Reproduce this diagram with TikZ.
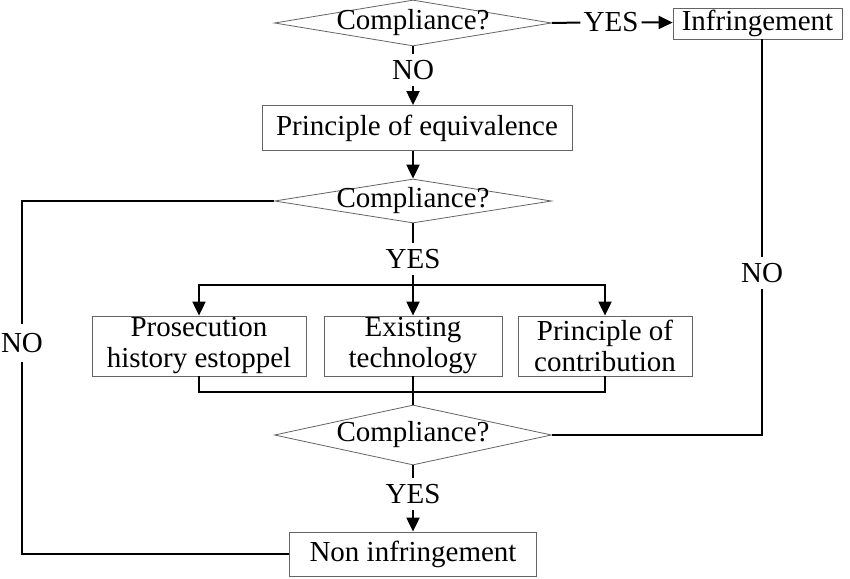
\documentclass[tikz,border=0pt]{standalone}
\usepackage{fontspec}
\setmainfont{Liberation Serif}
\usetikzlibrary{shapes.geometric,arrows.meta}
\definecolor{boxgray}{RGB}{100,100,100}
\tikzset{
  stepbox/.style={draw=boxgray,line width=0.8pt,inner sep=0pt,align=center},
  query/.style={draw=boxgray,line width=0.8pt,diamond,aspect=6,inner sep=0pt,
    minimum width=277pt},
  answer/.style={inner xsep=3pt,inner ysep=6pt},
  flow/.style={line width=2pt}
}
\begin{document}
\begin{tikzpicture}[x=1pt,y=-1pt,font=\fontsize{29}{31}\selectfont,
  >={Stealth[length=14pt,width=13pt,inset=0pt]}]
  \useasboundingbox (0,0) rectangle (850,578);
  % 判断框
  \node[query,minimum height=46pt] (c1) at (413,23) {\makebox[0pt]{Compliance?}};
  \node[query,minimum height=44pt] (c2) at (413,201) {\makebox[0pt]{Compliance?}};
  \node[query,minimum height=60pt] (c3) at (413,435) {\makebox[0pt]{Compliance?}};
  % 方框
  \node[stepbox,minimum width=169pt,minimum height=31pt] (inf) at (757.5,23.5) {Infringement};
  \node[stepbox,minimum width=310pt,minimum height=45pt] (pe) at (417,128) {Principle of equivalence};
  \node[stepbox,minimum width=214pt,minimum height=60pt] (pr) at (199,346) {Prosecution\\history estoppel};
  \node[stepbox,minimum width=178pt,minimum height=60pt] (ex) at (413,346) {Existing\\technology};
  \node[stepbox,minimum width=174pt,minimum height=60pt] (pc) at (605,346) {Principle of\\contribution};
  \node[stepbox,minimum width=247pt,minimum height=44pt] (ni) at (413,554) {Non infringement};
  % 标注
  \node[answer] (yes1) at (611,22) {YES};
  \node[answer] (no1) at (413,70) {NO};
  \node[answer] (yes2) at (413,259) {YES};
  \node[answer] (yes3) at (413,494) {YES};
  \node[answer] (no2) at (762,273) {NO};
  \node[answer,inner ysep=9pt] (no3) at (22,343) {NO};
  \coordinate (br) at (413,285);
  \coordinate (mg) at (413,392);
  % 连线
  \draw[flow] (c1.east) -- (yes1);
  \draw[flow,->] (yes1) -- (inf);
  \draw[flow] (c1) -- (no1);
  \draw[flow,->] (no1) -- (no1 |- pe.north);
  \draw[flow,->] (pe.south -| c2) -- (c2);
  \draw[flow] (c2) -- (yes2);
  \draw[flow] (yes2) -- (br);
  \draw[flow,->] (br) -| (pr);
  \draw[flow,->] (br) -- (ex);
  \draw[flow,->] (br) -| (pc);
  \draw[flow] (pr) |- (mg);
  \draw[flow] (pc) |- (mg);
  \draw[flow] (ex) -- (c3);
  \draw[flow] (c3) -- (yes3);
  \draw[flow,->] (yes3) -- (ni);
  \draw[flow] (inf.south -| no2) -- (no2);
  \draw[flow] (no2) |- (c3.east);
  \draw[flow] (c2.west) -| (no3);
  \draw[flow] (no3) |- (ni.west);
\end{tikzpicture}
\end{document}
